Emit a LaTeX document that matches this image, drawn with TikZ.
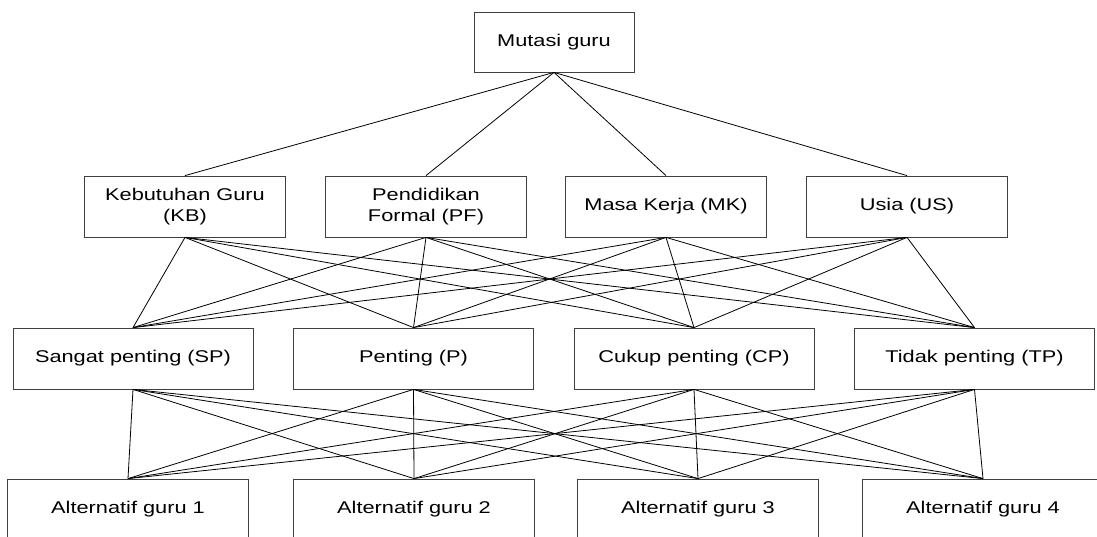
\documentclass[tikz,border=0pt]{standalone}
\usepackage{fontspec}
\setmainfont[FakeStretch=1.28]{Liberation Sans}
\usetikzlibrary{calc}

\tikzset{kotak/.style={draw=black!75, line width=0.8pt, fill=white, inner sep=0pt, align=center,
    minimum height=61pt, font=\fontsize{17}{21}\selectfont},
  garis/.style={black, line width=0.8pt}}

\begin{document}
\begin{tikzpicture}[x=1pt,y=1pt]
	\useasboundingbox (0,0) rectangle (1097,536);
	\clip (0,0) rectangle (1097,536);

	% tujuan
	\node[kotak, minimum width=160pt, minimum height=60pt] (goal) at (554,494) {Mutasi guru};

	% kriteria
	\foreach \x/\nm/\txt in {185/kb/{Kebutuhan Guru\\(KB)}, 426/pf/{Pendidikan\\Formal (PF)},
		666/mk/{Masa Kerja (MK)}, 907/us/{Usia (US)}}
	{
		\node[kotak, minimum width=201pt] (\nm) at (\x,329.5) {\txt};
	}

	% bobot
	\foreach \x/\nm/\txt in {133/sp/{Sangat penting (SP)}, 413.5/pe/{Penting (P)},
		694/cp/{Cukup penting (CP)}, 974.5/tp/{Tidak penting (TP)}}
	{
		\node[kotak, minimum width=240pt] (\nm) at (\x,177.5) {\txt};
	}

	% alternatif
	\foreach \x/\nm/\txt in {128/a1/{Alternatif guru 1}, 414/a2/{Alternatif guru 2},
		698/a3/{Alternatif guru 3}, 983/a4/{Alternatif guru 4}}
	{
		\node[kotak, minimum width=241pt] (\nm) at (\x,26.5) {\txt};
	}

	\foreach \k in {kb,pf,mk,us}
	{
		\draw[garis] (goal.south) -- (\k.north);
		\foreach \s in {sp,pe,cp,tp}
			\draw[garis] (\k.south) -- (\s.north);
	}
	\foreach \s in {sp,pe,cp,tp}
		\foreach \a in {a1,a2,a3,a4}
			\draw[garis] (\s.south) -- (\a.north);
\end{tikzpicture}
\end{document}
